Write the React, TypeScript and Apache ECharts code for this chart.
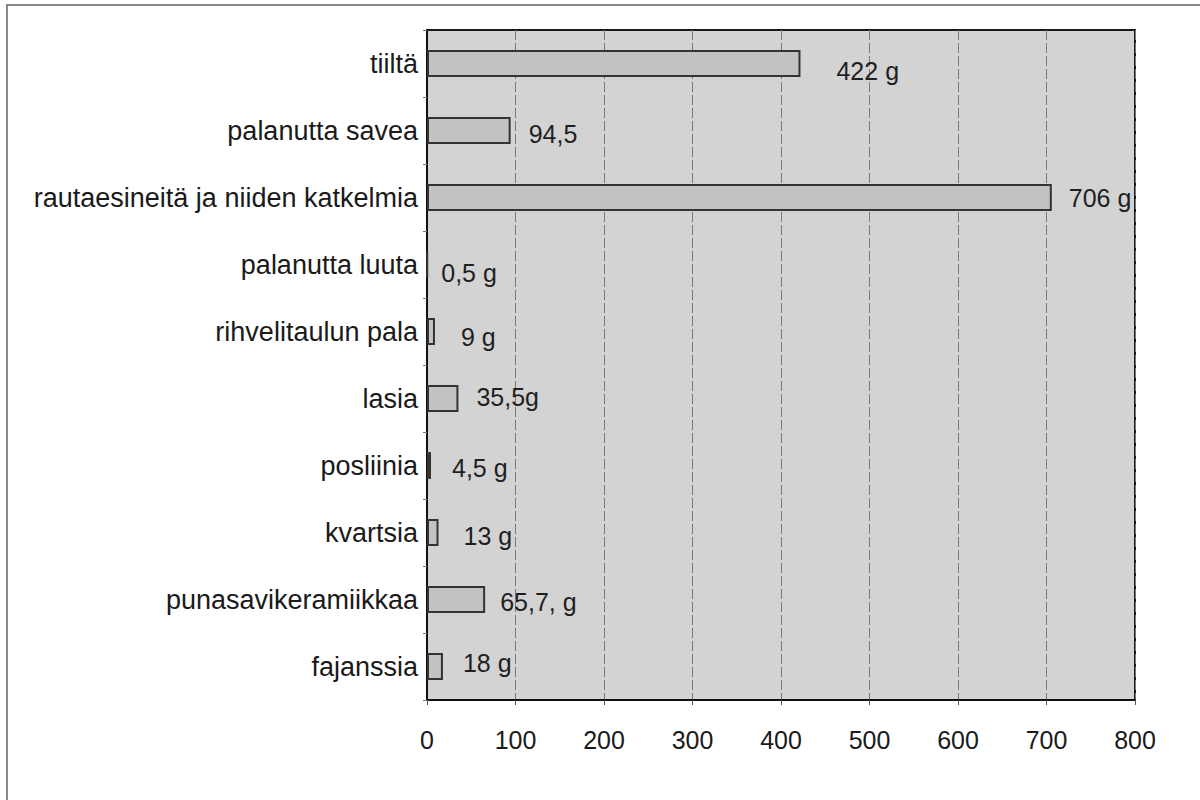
import React, { useEffect, useRef } from "react";
import * as echarts from "echarts";

const categories = [
  "tiiltä",
  "palanutta savea",
  "rautaesineitä ja niiden katkelmia",
  "palanutta luuta",
  "rihvelitaulun pala",
  "lasia",
  "posliinia",
  "kvartsia",
  "punasavikeramiikkaa",
  "fajanssia",
];
const values = [422, 94.5, 706, 0.5, 9, 35.5, 4.5, 13, 65.7, 18];
const valueLabels = ["422 g", "94,5", "706 g", "0,5 g", "9 g", "35,5g", "4,5 g", "13 g", "65,7, g", "18 g"];
const xTicks = [0, 100, 200, 300, 400, 500, 600, 700, 800];

// label styling offsets (dx, dy) relative to the bar end
const labelOffsets: [number, number][] = [
  [36, 7], [18, 3], [17, 0], [13, 8], [26, 5], [18, -2], [21, 2], [25, 3], [15, 2], [20, -4],
];

export default function App() {
  const ref = useRef<HTMLDivElement>(null);
  useEffect(() => {
    if (!ref.current) return;
    const chart = echarts.init(ref.current, undefined, { renderer: "svg", width: 1200, height: 800 });
    const font = "'Liberation Sans', Arial, sans-serif";
    chart.setOption({
      animation: false,
      backgroundColor: "#ffffff",
      grid: {
        left: 427,
        top: 30,
        right: 65,
        bottom: 100,
        show: true,
        backgroundColor: "#d3d3d3",
        borderColor: "#1a1a1a",
        borderWidth: 2,
      },
      xAxis: {
        type: "value",
        min: xTicks[0],
        max: xTicks[xTicks.length - 1],
        interval: 100,
        axisLine: { show: true, lineStyle: { color: "#111", width: 2 } },
        axisTick: { show: true, length: 5, lineStyle: { color: "#555" } },
        axisLabel: { color: "#1a1a1a", fontSize: 25, fontFamily: font, margin: 27 },
        splitLine: { show: true, lineStyle: { color: "#7a7a7a", width: 1, type: [10, 3] } },
      },
      yAxis: {
        type: "category",
        data: categories,
        inverse: true,
        axisLine: { show: true, lineStyle: { color: "#111", width: 2 } },
        axisTick: { show: true, length: 4, lineStyle: { color: "#777" } },
        axisLabel: { color: "#1a1a1a", fontSize: 27, fontFamily: font, margin: 9 },
        splitLine: { show: false },
      },
      series: [
        {
          type: "bar",
          barWidth: "40%",
          data: values.map((v, i) => ({
            value: v,
            label: {
              show: true,
              position: "right",
              distance: labelOffsets[i][0],
              offset: [0, labelOffsets[i][1]],
              formatter: valueLabels[i],
              color: "#1f1f1f",
              fontSize: 25,
              fontFamily: font,
            },
          })),
          itemStyle: { color: "#c2c2c2", borderColor: "#333", borderWidth: 2 },
        },
      ],
      graphic: [
        {
          type: "polyline",
          shape: { points: [[7, 820], [7, 5], [1200, 5]] },
          style: { stroke: "#888", lineWidth: 2, fill: null },
        },
      ],
    });
    return () => chart.dispose();
  }, []);
  return (
    <div
      ref={ref}
      style={{ position: "fixed", left: 0, top: 0, width: 1200, height: 800, background: "#fff" }}
    />
  );
}
